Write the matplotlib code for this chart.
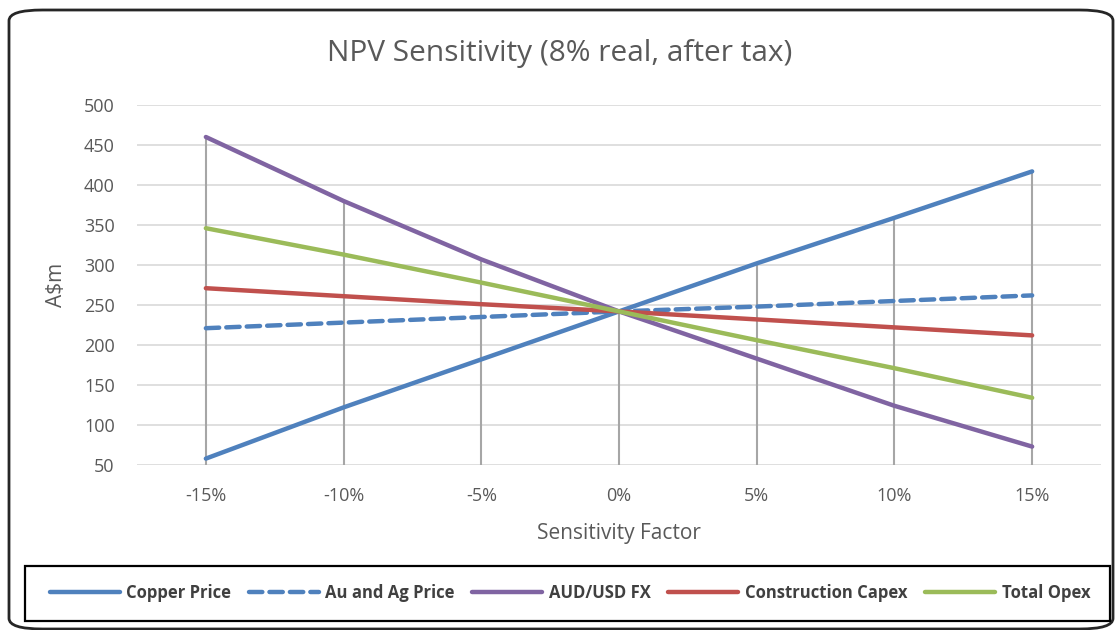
import matplotlib
matplotlib.use("Agg")
import matplotlib.pyplot as plt
from matplotlib.patches import FancyBboxPatch, Rectangle

factors = [-15, -10, -5, 0, 5, 10, 15]
tick_labels = ["-15%", "-10%", "-5%", "0%", "5%", "10%", "15%"]
copper = [58, 122, 182, 242, 302, 359, 417]
au_ag = [221, 228, 235, 242, 248, 255, 262]
fx = [460, 380, 307, 242, 183, 124, 73]
capex = [271, 261, 251, 242, 232, 222, 212]
opex = [346, 313, 278, 242, 206, 171, 134]

plt.rcParams['font.family'] = ['Open Sans', 'DejaVu Sans']
grey = '#595959'

fig = plt.figure(figsize=(11.18, 6.30), dpi=100)
ax = fig.add_axes([137/1118, 1-465/630, (1101-137)/1118, 360/630])

# drop lines
tops = [max(v) for v in zip(copper, au_ag, fx, capex, opex)]
ax.vlines(factors, 50, tops, color='#a6a6a6', lw=1.5, zorder=2)

ax.plot(factors, copper, color='#4F81BD', lw=3.2, solid_capstyle='round', label='Copper Price', zorder=3)
ax.plot(factors, au_ag, color='#4F81BD', lw=3.2, dashes=(3, 1.6), dash_capstyle='round', label='Au and Ag Price', zorder=3)
ax.plot(factors, fx, color='#8064A2', lw=3.2, solid_capstyle='round', label='AUD/USD FX', zorder=3)
ax.plot(factors, capex, color='#C0504D', lw=3.2, solid_capstyle='round', label='Construction Capex', zorder=3)
ax.plot(factors, opex, color='#9BBB59', lw=3.2, solid_capstyle='round', label='Total Opex', zorder=3)

ax.set_xlim(-17.5, 17.5)
ax.set_ylim(50, 500)
ax.set_yticks(range(50, 501, 50))
ax.set_xticks(factors)
ax.set_xticklabels(tick_labels)
ax.grid(axis='y', color='#d9d9d9', lw=1.2)
ax.set_axisbelow(True)
for s in ax.spines.values():
    s.set_visible(False)
ax.tick_params(length=0, labelsize=13, labelcolor=grey, pad=16)
ax.tick_params(axis='x', pad=16)
ax.set_xlabel('Sensitivity Factor', fontsize=15, color=grey, labelpad=13)
ax.set_ylabel('A$m', fontsize=15, color=grey, labelpad=12)
fig.text(560/1118, 1-53/630, 'NPV Sensitivity (8% real, after tax)', fontsize=21.5, color=grey,
         ha='center', va='center')

# outer rounded frame
fig.patches.append(FancyBboxPatch((9/1118, 1/630), 1104/1118, 619/630,
                                  boxstyle='round,pad=0,rounding_size=0.03',
                                  transform=fig.transFigure, fill=False,
                                  edgecolor='#262626', lw=2, mutation_aspect=630/1118))

# legend box
fig.patches.append(Rectangle((25/1118, 1-621/630), 1085/1118, 55/630, transform=fig.transFigure,
                             fill=False, edgecolor='black', lw=1.6))
leg = fig.legend(loc='center', bbox_to_anchor=(570/1118, 1-593/630), ncol=5, frameon=False,
                 prop={'weight': 'bold', 'size': 12}, handlelength=4.2, handletextpad=0.4,
                 columnspacing=1.05)
for t in leg.get_texts():
    t.set_color('#404040')

fig.savefig('out.png', dpi=100)
